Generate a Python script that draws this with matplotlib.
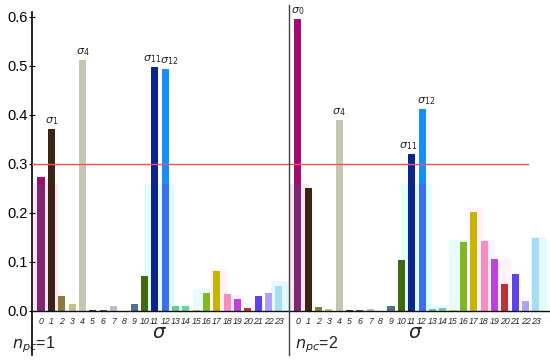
import matplotlib
matplotlib.use("Agg")
import matplotlib.pyplot as plt
from matplotlib.patches import Rectangle

plt.rcParams['font.family'] = ['Liberation Sans', 'DejaVu Sans']
plt.rcParams['mathtext.fontset'] = 'dejavusans'

sigma = list(range(24))
vals_npc1 = [0.273, 0.372, 0.031, 0.014, 0.513, 0.001, 0.001, 0.010, 0.000, 0.014,
             0.072, 0.497, 0.494, 0.011, 0.011, 0.002, 0.037, 0.081, 0.035, 0.024,
             0.006, 0.031, 0.037, 0.051]
vals_npc2 = [0.596, 0.250, 0.008, 0.003, 0.389, 0.001, 0.001, 0.003, 0.000, 0.010,
             0.103, 0.321, 0.412, 0.004, 0.005, 0.001, 0.141, 0.201, 0.143, 0.105,
             0.055, 0.075, 0.020, 0.148]
colors = ['#a50b6e', '#3d2314', '#8b7a3a', '#c7c08a', '#c5c8b0', '#333333', '#555555',
          '#b8bccc', '#666666', '#4f6f8a', '#3f6a12', '#0a2490', '#1590f8', '#5fcf8f',
          '#6fcf9f', '#c0e040', '#80b820', '#c8b400', '#f78cc0', '#c040e0', '#b83434',
          '#6040f0', '#b0a0f8', '#a8dcf0']
# tinted lower segments (overlay effect)
lower_colors = {0: '#7d2672', 12: '#3a70f0'}
ghost_level = 0.26

# faint background blocks: (sigma centre, span, height, colour)
ghost_npc1 = [(0.4, 2.4, 0.26, '#ffe4f2'), (11.5, 3.0, 0.26, '#e2fdff'),
              (13.5, 1.8, 0.013, '#e2fdff'), (15.5, 1.6, 0.045, '#e8fcff'),
              (17.2, 1.6, 0.086, '#fff0fa'), (18.7, 1.4, 0.032, '#ffeefa'),
              (23.2, 2.0, 0.062, '#e2fbff')]
ghost_npc2 = [(0.1, 2.0, 0.26, '#ffe4f2'), (11.5, 3.0, 0.26, '#e2fdff'),
              (13.5, 2.0, 0.012, '#e2fdff'), (15.5, 1.8, 0.145, '#e8fcff'),
              (17.2, 1.4, 0.21, '#fff0fa'), (18.3, 1.4, 0.145, '#fff0fa'),
              (19.8, 1.6, 0.105, '#fff2fb'), (23.3, 1.6, 0.15, '#e2fbff')]

labels_npc1 = [1, 4, 11, 12]
labels_npc2 = [0, 4, 11, 12]
label_shift = {11: -0.3, 12: 0.4}

offset2 = 24.83
W, H = 550, 362
fig = plt.figure(figsize=(W / 100, H / 100), dpi=100)
ax = fig.add_axes([32 / W, (H - 355) / H, 1 - 32 / W, (355 - 9.65) / H])
ax.set_xlim(-0.87, 49.2)
ax.set_ylim(-0.09, 0.615)

for off, vals, ghosts, labs, npc in [(0, vals_npc1, ghost_npc1, labels_npc1, 1),
                                    (offset2, vals_npc2, ghost_npc2, labels_npc2, 2)]:
    for (c, w, h, col) in ghosts:
        ax.add_patch(Rectangle((off + c - w / 2, 0), w, h, facecolor=col,
                               edgecolor='none', zorder=1))
    xs = [off + s for s in sigma]
    ax.bar(xs, vals, width=0.68, color=colors, zorder=2)
    for i, col in lower_colors.items():
        ax.bar(off + i, min(vals[i], ghost_level), width=0.68, color=col, zorder=2.1)
    for s in sigma:
        ax.text(off + s, -0.012, str(s), ha='center', va='top', fontsize=6.3,
                style='italic', color='#222222')
    for s in labs:
        ax.text(off + s + label_shift.get(s, 0), vals[s] + 0.004,
                r'$\sigma_{%d}$' % s, ha='center', va='bottom', fontsize=8,
                color='#222222')
    ax.text(off + 11.4, -0.028, r'$\sigma$', ha='center', va='top', fontsize=14,
            color='#222222')
    ax.text(off - 2.85 if npc == 1 else off - 0.3, -0.069,
            r'$n_{pc}$=%d' % npc, ha='left', va='center', fontsize=11.5, color='#222222')

ax.axhline(0, color='#111111', lw=1.0, zorder=3)
ax.plot([-0.87, 47.05], [0.3, 0.3], color='#ff4d4d', lw=1.0, zorder=4)
ax.plot([23.96, 23.96], [-0.09, 0.625], color='#444444', lw=1.0, zorder=4,
        clip_on=False)

for sp in ['top', 'right', 'bottom']:
    ax.spines[sp].set_visible(False)
ax.spines['left'].set_bounds(-0.09, 0.61)
ax.spines['left'].set_linewidth(1.2)
ax.set_yticks([0.0, 0.1, 0.2, 0.3, 0.4, 0.5, 0.6])
ax.set_yticklabels(['0.0', '0.1', '0.2', '0.3', '0.4', '0.5', '0.6'])
ax.tick_params(axis='y', direction='inout', length=4, labelsize=10.5, pad=1)
ax.set_xticks([])

fig.savefig('out.png', dpi=100)
